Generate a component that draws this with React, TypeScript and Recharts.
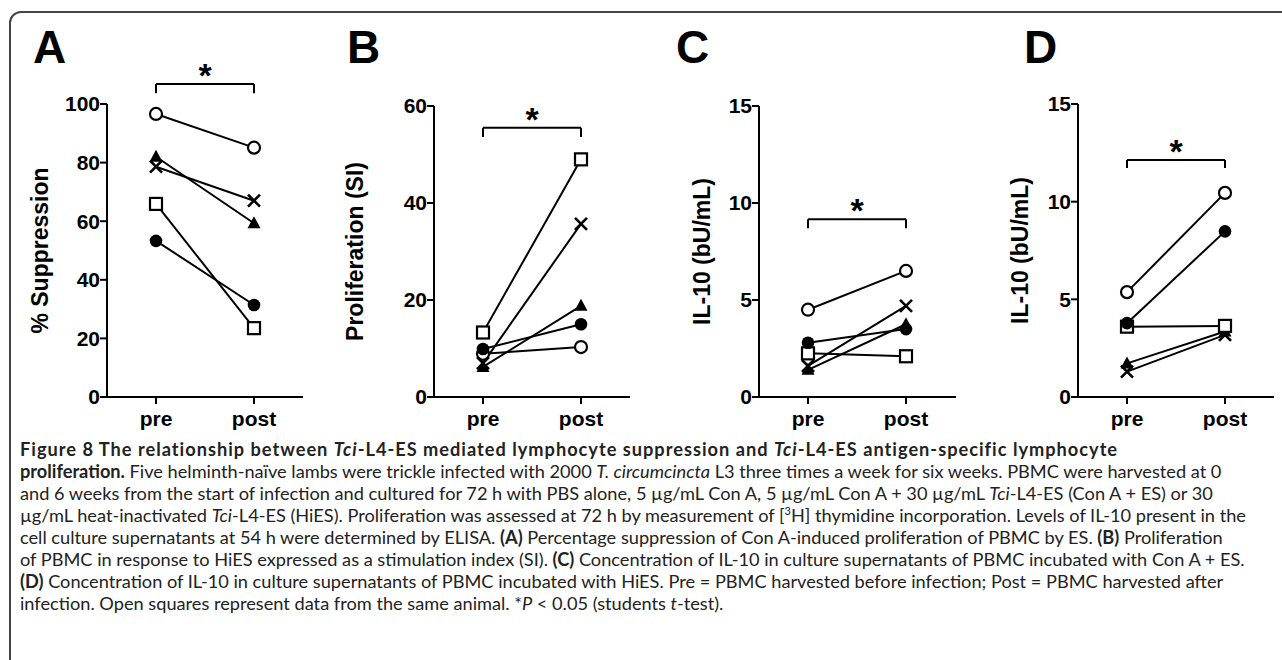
import React from "react";
import { LineChart, Line, XAxis, YAxis, ReferenceLine } from "recharts";

const groups = ["pre", "post"];
// one marker shape per lamb, same order in every value array below
const animals = ["openCircle", "triangle", "cross", "openSquare", "filledCircle"];

const suppressionPre = [96.6, 82, 78.6, 65.9, 53.3];
const suppressionPost = [85.1, 59.3, 67, 23.5, 31.4];
const prolifPre = [8.9, 6.2, 7, 13.3, 9.9];
const prolifPost = [10.3, 18.8, 35.7, 49, 15];
const il10ConAPre = [4.5, 1.4, 1.6, 2.25, 2.8];
const il10ConAPost = [6.5, 3.75, 4.7, 2.1, 3.5];
const il10HiesPre = [5.37, 1.72, 1.3, 3.6, 3.78];
const il10HiesPost = [10.45, 3.35, 3.18, 3.64, 8.48];

const suppressionTicks = [0, 20, 40, 60, 80, 100];
const prolifTicks = [0, 20, 40, 60];
const il10Ticks = [0, 5, 10, 15];

const FONT = "'Liberation Sans', Arial, Helvetica, sans-serif";
const CHART_H = 440;
const PLOT_BOTTOM = 397;

function toRows(pre: number[], post: number[]) {
  return groups.map((g, i) => {
    const row: Record<string, any> = { group: g };
    animals.forEach((a, j) => {
      row[a] = (i === 0 ? pre : post)[j];
    });
    return row;
  });
}

function Marker({ cx, cy, kind }: { cx?: number; cy?: number; kind: string }) {
  if (cx == null || cy == null) return null;
  const sw = 2.2;
  switch (kind) {
    case "openCircle":
      return <circle cx={cx} cy={cy} r={6} fill="#fff" stroke="#000" strokeWidth={sw} />;
    case "filledCircle":
      return <circle cx={cx} cy={cy} r={6.3} fill="#000" />;
    case "openSquare":
      return <rect x={cx - 6} y={cy - 6} width={12} height={12} fill="#fff" stroke="#000" strokeWidth={sw} />;
    case "triangle":
      return <polygon points={`${cx},${cy - 7} ${cx + 6.5},${cy + 5} ${cx - 6.5},${cy + 5}`} fill="#000" />;
    case "cross":
      return (
        <g stroke="#000" strokeWidth={2.6}>
          <line x1={cx - 6} y1={cy - 6} x2={cx + 6} y2={cy + 6} />
          <line x1={cx - 6} y1={cy + 6} x2={cx + 6} y2={cy - 6} />
        </g>
      );
    default:
      return null;
  }
}

function Star({ viewBox, dy }: any) {
  if (!viewBox) return null;
  return (
    <text
      x={viewBox.x + viewBox.width / 2}
      y={viewBox.y + dy}
      textAnchor="middle"
      fontFamily={FONT}
      fontWeight={700}
      fontSize={34}
      fill="#000"
    >
      *
    </text>
  );
}

function Panel({
  left,
  axisX,
  plotTop,
  plotW,
  pre,
  post,
  max,
  ticks,
  title,
  titleX,
  bracketTop,
  bracketEnd,
}: {
  left: number;
  axisX: number;
  plotTop: number;
  plotW: number;
  pre: number[];
  post: number[];
  max: number;
  ticks: number[];
  title: string;
  titleX: number;
  bracketTop: number;
  bracketEnd: number;
}) {
  const rows = toRows(pre, post);
  const yW = axisX - left;
  const pad = Math.round(plotW / 4);
  const axisStyle = { stroke: "#000", strokeWidth: 2 };
  const tickStyle = { fill: "#000", fontSize: 21, fontWeight: 700, fontFamily: FONT };
  return (
    <div style={{ position: "absolute", left, top: 0 }}>
      <LineChart
        width={yW + plotW + 4}
        height={CHART_H}
        data={rows}
        margin={{ top: plotTop, right: 4, left: 0, bottom: 0 }}
      >
        <XAxis
          dataKey="group"
          height={CHART_H - PLOT_BOTTOM}
          padding={{ left: pad, right: plotW - 3 * pad }}
          tickSize={7}
          tickMargin={7}
          axisLine={axisStyle}
          tickLine={axisStyle}
          tick={tickStyle}
        />
        <YAxis
          type="number"
          domain={[0, max]}
          ticks={ticks}
          interval={0}
          width={yW}
          tickSize={7}
          tickMargin={0}
          axisLine={axisStyle}
          tickLine={axisStyle}
          tick={tickStyle}
          label={{
            value: title,
            angle: -90,
            position: "insideLeft",
            offset: titleX - left,
            style: { textAnchor: "middle", fill: "#000", fontSize: 23, fontWeight: 700, fontFamily: FONT },
          }}
        />
        <ReferenceLine
          segment={[
            { x: "pre", y: bracketTop },
            { x: "post", y: bracketTop },
          ]}
          ifOverflow="visible"
          stroke="#000"
          strokeWidth={2}
          label={<Star dy={3} />}
        />
        <ReferenceLine
          segment={[
            { x: "pre", y: bracketTop },
            { x: "pre", y: bracketEnd },
          ]}
          ifOverflow="visible"
          stroke="#000"
          strokeWidth={2}
        />
        <ReferenceLine
          segment={[
            { x: "post", y: bracketTop },
            { x: "post", y: bracketEnd },
          ]}
          ifOverflow="visible"
          stroke="#000"
          strokeWidth={2}
        />
        {animals.map((a) => (
          <Line
            key={a}
            dataKey={a}
            stroke="#000"
            strokeWidth={2}
            isAnimationActive={false}
            activeDot={false}
            dot={(p: any) => <Marker key={`${a}-${p.index}`} cx={p.cx} cy={p.cy} kind={a} />}
          />
        ))}
      </LineChart>
    </div>
  );
}

function Letter({ x, children }: { x: number; children: string }) {
  return (
    <div
      style={{
        position: "absolute",
        left: x,
        top: 24,
        fontFamily: FONT,
        fontWeight: 700,
        fontSize: 46,
        lineHeight: "46px",
        color: "#000",
      }}
    >
      {children}
    </div>
  );
}

const capLine: React.CSSProperties = { whiteSpace: "nowrap", height: 22 };
const supStyle: React.CSSProperties = { fontSize: 11, position: "relative", top: -7, lineHeight: 0 };

export default function App() {
  return (
    <div
      style={{
        position: "absolute",
        left: 0,
        top: 0,
        width: 1282,
        height: 660,
        overflow: "hidden",
        background: "#fff",
      }}
    >
      <div
        style={{
          position: "absolute",
          left: 9,
          top: 11,
          width: 1320,
          height: 660,
          border: "2px solid #444",
          borderRadius: 12,
          boxSizing: "border-box",
        }}
      />
      <Letter x={33}>A</Letter>
      <Letter x={347}>B</Letter>
      <Letter x={676}>C</Letter>
      <Letter x={1024}>D</Letter>

      <Panel left={10} axisX={107} plotTop={104} plotW={196} pre={suppressionPre} post={suppressionPost}
        max={100} ticks={suppressionTicks} title="% Suppression" titleX={40} bracketTop={106.8} bracketEnd={103.7} />
      <Panel left={330} axisX={434} plotTop={106} plotW={196} pre={prolifPre} post={prolifPost}
        max={60} ticks={prolifTicks} title="Proliferation (SI)" titleX={355} bracketTop={55.5} bracketEnd={53.6} />
      <Panel left={650} axisX={759} plotTop={106} plotW={197} pre={il10ConAPre} post={il10ConAPost}
        max={15} ticks={il10Ticks} title="IL-10 (bU/mL)" titleX={702} bracketTop={9.16} bracketEnd={8.7} />
      <Panel left={960} axisX={1078} plotTop={104} plotW={196} pre={il10HiesPre} post={il10HiesPost}
        max={15} ticks={il10Ticks} title="IL-10 (bU/mL)" titleX={1020} bracketTop={12.13} bracketEnd={11.72} />

      <div
        style={{
          position: "absolute",
          left: 20,
          top: 438,
          fontFamily: "Lato, 'Open Sans', sans-serif",
          fontSize: 18.2,
          lineHeight: "22px",
          color: "#222",
        }}
      >
        <div style={{ ...capLine, letterSpacing: 1 }}>
          <b>
            Figure 8 The relationship between <i>Tci</i>-L4-ES mediated lymphocyte suppression and <i>Tci</i>-L4-ES
            antigen-specific lymphocyte
          </b>
        </div>
        <div style={capLine}>
          <b>proliferation.</b> Five helminth-naïve lambs were trickle infected with 2000 <i>T. circumcincta</i> L3
          three times a week for six weeks. PBMC were harvested at 0
        </div>
        <div style={capLine}>
          and 6 weeks from the start of infection and cultured for 72 h with PBS alone, 5 µg/mL Con A, 5 µg/mL Con A +
          30 µg/mL <i>Tci</i>-L4-ES (Con A + ES) or 30
        </div>
        <div style={capLine}>
          µg/mL heat-inactivated <i>Tci</i>-L4-ES (HiES). Proliferation was assessed at 72 h by measurement of [
          <span style={supStyle}>3</span>H] thymidine incorporation. Levels of IL-10 present in the
        </div>
        <div style={capLine}>
          cell culture supernatants at 54 h were determined by ELISA. <b>(A)</b> Percentage suppression of Con A-induced
          proliferation of PBMC by ES. <b>(B)</b> Proliferation
        </div>
        <div style={capLine}>
          of PBMC in response to HiES expressed as a stimulation index (SI). <b>(C)</b> Concentration of IL-10 in
          culture supernatants of PBMC incubated with Con A + ES.
        </div>
        <div style={capLine}>
          <b>(D)</b> Concentration of IL-10 in culture supernatants of PBMC incubated with HiES. Pre = PBMC harvested
          before infection; Post = PBMC harvested after
        </div>
        <div style={capLine}>
          infection. Open squares represent data from the same animal. *<i>P</i> &lt; 0.05 (students <i>t</i>-test).
        </div>
      </div>
    </div>
  );
}
